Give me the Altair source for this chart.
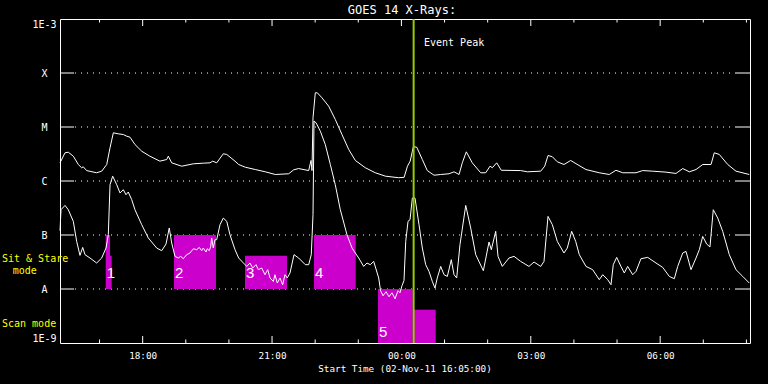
import altair as alt
import pandas as pd

START = pd.Timestamp("2011-11-02 16:05:00")

# (minutes after 16:05, flux W/m^2)
long_channel = [
    (0, 2.17e-6), (7, 3.33e-6), (11.5, 3.41e-6), (18.5, 2.88e-6), (25.5, 2.02e-6), (30, 1.76e-6),
    (32.4, 1.83e-6), (37, 1.56e-6), (51, 1.42e-6), (58, 1.52e-6), (65, 2.02e-6), (69.6, 4.12e-6),
    (74.2, 7.81e-6), (81, 7.48e-6), (88, 7.26e-6), (92.8, 6.76e-6), (97.4, 6.47e-6), (104.3, 4.74e-6),
    (113.7, 3.56e-6), (125, 2.88e-6), (139, 2.33e-6), (148.5, 2.50e-6), (150.7, 2.88e-6), (155.4, 2.17e-6),
    (169.3, 1.88e-6), (185.5, 2.08e-6), (199.4, 2.14e-6), (208.7, 2.17e-6), (212.5, 2.33e-6), (218, 2.17e-6),
    (227.2, 3.19e-6), (232, 3.10e-6), (243.5, 2.33e-6), (248.6, 2.02e-6), (257.8, 1.80e-6), (271.7, 1.63e-6),
    (285.6, 1.48e-6), (299.5, 1.32e-6), (318.2, 1.36e-6), (325.1, 1.61e-6), (332, 1.70e-6), (346, 1.56e-6),
    (349.2, 2.40e-6), (350.6, 1.56e-6), (352, 1.48e-5), (355.2, 4.30e-5), (358, 4.30e-5), (364.5, 3.47e-5),
    (373.8, 2.43e-5), (383, 1.38e-5), (392.3, 7.26e-6), (401.7, 3.83e-6), (410.9, 2.40e-6), (424.8, 1.76e-6),
    (438.7, 1.42e-6), (452.6, 1.23e-6), (471.2, 1.15e-6), (478.8, 1.17e-6), (483.4, 1.88e-6), (487.2, 2.33e-6),
    (491.6, 4.30e-6), (496.3, 4.23e-6), (504.1, 2.50e-6), (511, 1.56e-6), (520.4, 1.28e-6), (529.7, 1.32e-6),
    (541.2, 1.36e-6), (548.2, 1.48e-6), (555.2, 1.32e-6), (559.7, 2.17e-6), (565.3, 3.47e-6), (573.6, 2.17e-6),
    (585.3, 1.42e-6), (592.3, 1.42e-6), (598.3, 1.88e-6), (601.5, 1.76e-6), (607.6, 2.17e-6), (614, 1.58e-6),
    (641, 1.56e-6), (650.2, 1.48e-6), (668.8, 1.52e-6), (674.4, 1.88e-6), (679, 2.97e-6), (685, 2.81e-6),
    (691.9, 2.27e-6), (701.2, 2.02e-6), (710.5, 2.40e-6), (722.1, 1.94e-6), (731.8, 1.63e-6), (750.3, 1.42e-6),
    (764.2, 1.32e-6), (773.5, 1.58e-6), (782.9, 1.42e-6), (801.4, 1.42e-6), (810.7, 1.56e-6), (824.6, 1.52e-6),
    (843.1, 1.46e-6), (857, 1.38e-6), (866.4, 1.70e-6), (875.6, 1.48e-6), (884.9, 1.63e-6), (894.2, 2.02e-6),
    (905.8, 2.02e-6), (910.3, 3.33e-6), (917.3, 3.10e-6), (929, 2.02e-6), (940.5, 1.52e-6), (959, 1.32e-6),
]

short_channel = [
    (0, 1.20e-7), (1.4, 2.94e-7), (7, 3.53e-7), (11.5, 2.94e-7), (18.5, 1.79e-7), (23.2, 7.61e-8),
    (27.8, 4.19e-8), (31.6, 5.89e-8), (34.8, 4.32e-8), (41.7, 3.75e-8), (51, 3.03e-8), (58, 3.75e-8),
    (64, 5.74e-8), (67.2, 1.01e-7), (69.6, 8.54e-7), (73.3, 1.23e-6), (78.9, 8.54e-7), (83.5, 6.0e-7),
    (88.1, 6.90e-7), (91.8, 5.57e-7), (95, 6.26e-7), (99.8, 4.51e-7), (104.3, 2.94e-7), (113.7, 1.55e-7),
    (122.9, 8.80e-8), (134.5, 5.74e-8), (141.5, 5.12e-8), (147.5, 6.81e-8), (152, 1.35e-7), (155.4, 7.11e-8),
    (160, 4.02e-8), (164.6, 3.75e-8), (167.9, 4.02e-8), (171.5, 3.64e-8), (176.3, 4.32e-8), (180.9, 4.64e-8),
    (185.5, 5.57e-8), (190.2, 5.34e-8), (193.8, 5.89e-8), (197.1, 5.12e-8), (199.4, 5.74e-8), (203.1, 4.84e-8),
    (204.9, 5.57e-8), (207.7, 5.12e-8), (209.7, 6.15e-8), (211, 8.80e-8), (213.3, 5.74e-8), (215.6, 8.18e-8),
    (218, 8.18e-8), (222.6, 1.55e-7), (227.2, 2.06e-7), (232, 1.79e-7),
    (236.5, 1.01e-7), (243.5, 5.34e-8), (248.6, 3.75e-8), (259.8, 2.62e-8), (264.3, 3.03e-8), (268.1, 2.45e-8),
    (272.7, 2.82e-8), (275.9, 2.28e-8), (280.6, 2.45e-8), (285.2, 1.84e-8), (289, 2.28e-8), (292.2, 1.60e-8),
    (296.8, 1.38e-8), (299.1, 1.84e-8), (302.3, 1.29e-8), (306.1, 1.60e-8), (309.8, 1.20e-8), (313, 1.84e-8),
    (316.2, 1.60e-8), (320, 1.98e-8), (325.6, 4.32e-8), (332, 3.75e-8), (341.3, 2.82e-8), (346, 2.82e-8),
    (349.6, 4.32e-8), (352, 2.38e-7), (353.4, 1.28e-5), (356.2, 1.20e-5), (362.2, 8.36e-6), (369.1, 4.74e-6),
    (376.1, 2.02e-6), (383, 8.54e-7), (390, 2.94e-7), (399.3, 1.01e-7), (406.3, 5.74e-8), (415.6, 3.75e-8),
    (422.5, 2.62e-8), (427.1, 3.03e-8), (431.7, 2.82e-8), (436.5, 3.24e-8), (443.4, 1.60e-8), (446, 9.3e-9),
    (449.4, 7.5e-9), (453.6, 8.9e-9), (457.7, 7.2e-9), (461.9, 8.5e-9), (466.1, 6.6e-9), (470.3, 9.3e-9),
    (473, 8.5e-9), (475.8, 1.15e-8), (478.6, 1.43e-8), (481, 7.61e-8), (484.2, 1.79e-7), (487, 1.92e-7),
    (490.2, 4.84e-7), (493.9, 4.84e-7), (499.5, 1.55e-7), (504.1, 5.74e-8), (508.8, 2.82e-8), (513.4, 2.12e-8),
    (518, 1.38e-8), (521.7, 1.04e-8), (524.9, 1.60e-8), (529.7, 2.62e-8), (534.3, 1.84e-8), (538.9, 1.71e-8),
    (544.4, 3.49e-8), (548.2, 1.84e-8), (551.9, 1.60e-8), (556.5, 6.61e-8), (564.5, 3.53e-7), (571.4, 1.35e-7),
    (578.4, 4.32e-8), (589, 2.18e-8), (596.9, 7.42e-8), (600.1, 5.34e-8), (606.2, 1.17e-7), (609.4, 4.02e-8),
    (615.4, 2.62e-8), (624.7, 3.75e-8), (631.7, 4.02e-8), (641, 3.24e-8), (652.5, 2.62e-8), (659.5, 3.16e-8),
    (668.8, 2.62e-8), (673.4, 3.24e-8), (679, 2.21e-7), (685, 1.55e-7), (691.9, 7.61e-8), (701.2, 4.64e-8),
    (705.8, 5.74e-8), (711.9, 1.17e-7), (717.5, 7.61e-8), (722.5, 4.32e-8), (731.8, 2.62e-8), (741.1, 2.28e-8),
    (750.3, 1.49e-8), (755.1, 1.84e-8), (762, 1.49e-8), (766.6, 1.20e-8), (769.8, 2.82e-8), (774.5, 3.85e-8),
    (780.5, 2.62e-8), (785.1, 1.98e-8), (789.8, 2.62e-8), (796.8, 1.84e-8), (801.4, 2.12e-8), (808.3, 3.64e-8),
    (817.7, 3.85e-8), (829.2, 3.03e-8), (838.6, 2.51e-8), (847.7, 1.71e-8), (854.7, 1.55e-8), (859.4, 2.62e-8),
    (866.4, 4.64e-8), (871, 4.97e-8), (877.9, 2.28e-8), (884.9, 3.75e-8), (889.5, 5.34e-8), (894.2, 9.42e-8),
    (899.7, 6.81e-8), (904.3, 6.0e-8), (908.9, 2.94e-7), (915.1, 2.06e-7), (922, 1.17e-7), (931.2, 4.32e-8),
    (940.5, 2.28e-8), (949.9, 1.71e-8), (959, 1.29e-8),
]

# observation mode boxes (minutes after start, flux)
box_start = [63.6, 69.6, 158.6, 257.4, 353.4, 442.4, 491.1]
box_end = [69.6, 71.9, 217.0, 315.8, 411.4, 490.7, 522.7]
box_top = [1e-7, 4.14e-8, 1e-7, 4.14e-8, 1e-7, 1e-8, 4.14e-9]
box_bottom = [1e-8, 1e-8, 1e-8, 1e-8, 1e-8, 1e-9, 1e-9]

box_labels = ["1", "2", "3", "4", "5"]
box_label_min = [63.6, 158.6, 257.4, 353.4, 442.4]
box_label_flux = [2.0e-8, 2.0e-8, 2.0e-8, 2.0e-8, 1.62e-9]

event_peak_min = 492.0

y_tick_values = [1e-9, 1e-8, 1e-7, 1e-6, 1e-5, 1e-4, 1e-3]
y_grid_values = [1e-8, 1e-7, 1e-6, 1e-5, 1e-4]
hour_ticks_min = [55, 115, 175, 235, 295, 355, 415, 475, 535, 595, 655, 715, 775, 835, 895, 955]
major_ticks_min = [115, 295, 475, 655, 835]


def tt(m):
    return START + pd.to_timedelta(m, unit="m")


df_long = pd.DataFrame(long_channel, columns=["m", "flux"])
df_long["time"] = tt(df_long["m"])
df_short = pd.DataFrame(short_channel, columns=["m", "flux"])
df_short["time"] = tt(df_short["m"])
df_box = pd.DataFrame({"time": tt(pd.Series(box_start)), "time2": tt(pd.Series(box_end)),
                       "flux": box_top, "flux2": box_bottom})
df_lab = pd.DataFrame({"time": tt(pd.Series(box_label_min)), "flux": box_label_flux, "label": box_labels})
df_grid = pd.DataFrame({"flux": y_grid_values})
df_minor = pd.DataFrame({"time": tt(pd.Series([h for h in hour_ticks_min if h not in major_ticks_min]))})
df_major = pd.DataFrame({"time": tt(pd.Series(major_ticks_min))})
df_event = pd.DataFrame({"time": [tt(event_peak_min)]})
one = pd.DataFrame({"a": [0]})

MONO = "DejaVu Sans Mono"

x_scale = alt.Scale(domain=[alt.DateTime(year=2011, month=11, date=2, hours=16, minutes=5),
                            alt.DateTime(year=2011, month=11, date=3, hours=8, minutes=5)])
y_scale = alt.Scale(type="log", domain=[1e-9, 1e-3])

x_axis = alt.Axis(values=[alt.DateTime(year=2011, month=11, date=2, hours=18),
                          alt.DateTime(year=2011, month=11, date=2, hours=21),
                          alt.DateTime(year=2011, month=11, date=3, hours=0),
                          alt.DateTime(year=2011, month=11, date=3, hours=3),
                          alt.DateTime(year=2011, month=11, date=3, hours=6)],
                  format="%H:%M", ticks=False, domain=False, grid=False, title="",
                  labelFont=MONO, labelFontSize=9.3, labelColor="white", labelPadding=8)
y_axis = alt.Axis(values=y_tick_values, ticks=False, domain=False, grid=False, title="",
                  labelExpr="datum.value > 5e-4 ? '1E-3' : datum.value > 5e-5 ? 'X' : datum.value > 5e-6 ? 'M' : "
                            "datum.value > 5e-7 ? 'C' : datum.value > 5e-8 ? 'B' : datum.value > 5e-9 ? 'A' : '1E-9'",
                  labelFont=MONO, labelFontSize=10, labelColor="white", labelAlign="center",
                  labelPadding=16, labelFlush=True, labelFlushOffset=0)

X = alt.X("time:T", scale=x_scale, axis=x_axis)
Y = alt.Y("flux:Q", scale=y_scale, axis=y_axis)

grid = alt.Chart(df_grid).mark_rule(color="white", strokeWidth=1, strokeDash=[1, 5]).encode(
    y=Y, x=alt.value(15), x2=alt.value(676))
lticks = alt.Chart(df_grid).mark_rule(color="white", strokeWidth=1).encode(
    y=Y, x=alt.value(0), x2=alt.value(14))
rticks = alt.Chart(df_grid).mark_rule(color="white", strokeWidth=1).encode(
    y=Y, x=alt.value(676), x2=alt.value(690))
bmaj = alt.Chart(df_major).mark_rule(color="white").encode(x=X, y=alt.value(324), y2=alt.value(317))
bmin = alt.Chart(df_minor).mark_rule(color="white").encode(x=X, y=alt.value(324), y2=alt.value(320.5))
tmaj = alt.Chart(df_major).mark_rule(color="white").encode(x=X, y=alt.value(0), y2=alt.value(7))
tmin = alt.Chart(df_minor).mark_rule(color="white").encode(x=X, y=alt.value(0), y2=alt.value(3.5))

boxes = alt.Chart(df_box).mark_rect(color="#cc00cc").encode(
    x=X, x2="time2:T", y=Y, y2="flux2:Q")
labels = alt.Chart(df_lab).mark_text(color="white", font="Liberation Sans", fontSize=15,
                                     align="left", baseline="middle", dx=1).encode(
    x=X, y=Y, text="label:N")
lline = alt.Chart(df_long).mark_line(color="white", strokeWidth=1).encode(x=X, y=Y)
sline = alt.Chart(df_short).mark_line(color="white", strokeWidth=1).encode(x=X, y=Y)
event = alt.Chart(df_event).mark_rule(color="#99cc00", strokeWidth=2).encode(x=X)


def txt(s, x, y, size, color="white", align="left"):
    return alt.Chart(one).mark_text(text=s, font=MONO, fontSize=size, color=color,
                                    align=align, baseline="middle").encode(
        x=alt.value(x), y=alt.value(y))


texts = [
    txt("GOES 14 X-Rays:", 342, -9.5, 12, align="center"),
    txt("Event Peak", 364, 23.5, 10),
    txt("Start Time (02-Nov-11 16:05:00)", 345, 349.5, 9.3, align="center"),
    txt("Sit & Stare", -58, 240, 10, color="#ffff00"),
    txt("mode", -47.3, 252, 10, color="#ffff00"),
    txt("Scan mode", -58, 305, 10, color="#ffff00"),
]

chart = alt.layer(grid, lticks, rticks, bmaj, bmin, tmaj, tmin, boxes, labels, lline, sline, event,
                  *texts).properties(
    width=690, height=324, background="black",
    padding={"left": 60, "top": 19, "right": 18, "bottom": 41},
    autosize=alt.AutoSizeParams(type="none"),
).configure_view(stroke="white", strokeWidth=1)

chart.save("out.html", embed_options={"renderer": "svg", "actions": False})
